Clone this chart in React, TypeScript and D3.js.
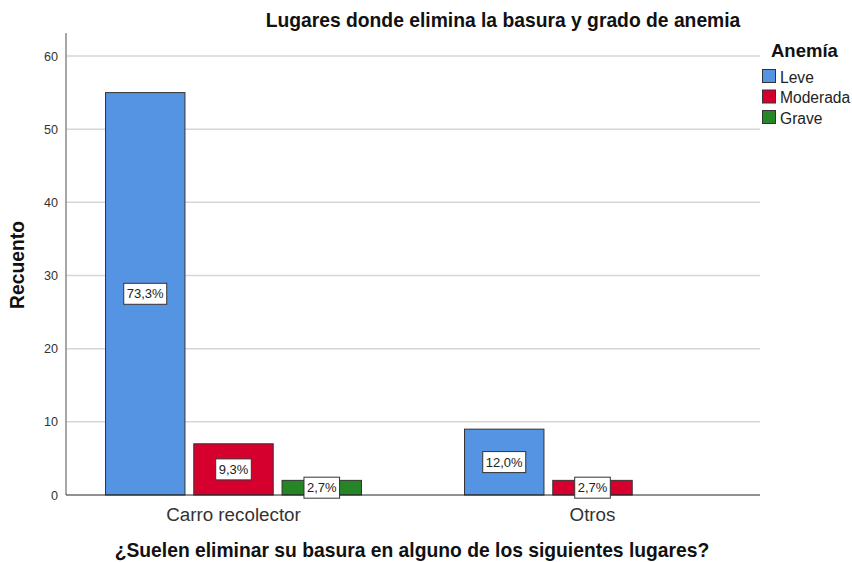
import React from 'react';
import * as d3 from 'd3';

// categories and series
const categories = ['Carro recolector', 'Otros'];
const series = ['Leve', 'Moderada', 'Grave'];
const colors = ['#5593e3', '#d5002e', '#268627'];
// counts per category, one array per series
const leve = [55, 9];
const moderada = [7, 2];
const grave = [2, 0];
const leveLabels = ['73,3%', '12,0%'];
const moderadaLabels = ['9,3%', '2,7%'];
const graveLabels = ['2,7%', ''];
const yTicks = [0, 10, 20, 30, 40, 50, 60];

const values = [leve, moderada, grave];
const labels = [leveLabels, moderadaLabels, graveLabels];

const W = 852;
const H = 562;
const plot = { left: 66, right: 760, top: 33, bottom: 495 };
const font = '"Liberation Sans", Arial, sans-serif';

const App = () => {
   const y = d3.scaleLinear().domain([0, 60]).range([plot.bottom, 56]);

   // outer band for categories, inner band for series
   const x0 = d3.scaleBand()
      .domain(categories)
      .range([plot.left - 12, plot.right + 12]);
   const groupW = x0.bandwidth() * 0.713;
   const x1 = d3.scaleBand()
      .domain(series)
      .range([0, groupW])
      .paddingInner(0.1);

   const bars = [];
   categories.forEach((cat, ci) => {
      series.forEach((s, si) => {
         const v = values[si][ci];
         if (!v) return;
         const bx = x0(cat) + (x0.bandwidth() - groupW) / 2 + x1(s);
         bars.push({ key: cat + s, x: bx, w: x1.bandwidth(), v, color: colors[si], label: labels[si][ci] });
      });
   });

   return (
      <svg width={W} height={H} style={{ position: 'absolute', left: 0, top: 0, fontFamily: font }}>
         <rect width={W} height={H} fill="#fff" />

         {/* title */}
         <text x={503} y={27} textAnchor="middle" fontSize={19.3} fontWeight="bold" fill="#111">
            Lugares donde elimina la basura y grado de anemia
         </text>

         {/* grid */}
         {yTicks.filter(t => t > 0).map(t => (
            <line key={t} x1={plot.left} x2={plot.right} y1={y(t)} y2={y(t)} stroke="#d6d6d6" strokeWidth={1.5} />
         ))}

         {/* y axis */}
         <line x1={plot.left} x2={plot.left} y1={plot.top} y2={plot.bottom} stroke="#8a8a8a" strokeWidth={1.5} />
         {yTicks.map(t => (
            <text key={t} x={58} y={y(t) + 4.5} textAnchor="end" fontSize={12.6} fill="#333">{t}</text>
         ))}
         <text transform={`translate(24,${265}) rotate(-90)`} textAnchor="middle" fontSize={19.3} fontWeight="bold" fill="#111">
            Recuento
         </text>

         {/* bars */}
         {bars.map(b => (
            <rect key={b.key} x={b.x} y={y(b.v)} width={b.w} height={plot.bottom - y(b.v)}
               fill={b.color} stroke="#333" strokeWidth={1} />
         ))}

         {/* baseline */}
         <line x1={plot.left} x2={plot.right} y1={plot.bottom} y2={plot.bottom} stroke="#222" strokeWidth={1} />

         {/* value labels */}
         {bars.filter(b => b.label).map(b => {
            const cx = b.x + b.w / 2;
            const cy = (y(b.v) + plot.bottom) / 2;
            const bw = b.label.length * 7.4 + 6;
            return (
               <g key={'l' + b.key}>
                  <rect x={cx - bw / 2} y={cy - 10.5} width={bw} height={21} fill="#fff" stroke="#333" strokeWidth={1} />
                  <text x={cx} y={cy + 4.5} textAnchor="middle" fontSize={13} fill="#222">{b.label}</text>
               </g>
            );
         })}

         {/* category labels */}
         {categories.map(c => (
            <text key={c} x={x0(c) + x0.bandwidth() / 2} y={521} textAnchor="middle" fontSize={18.8} fill="#333">{c}</text>
         ))}

         {/* x title */}
         <text x={412} y={557} textAnchor="middle" fontSize={19.3} fontWeight="bold" fill="#111">
            ¿Suelen eliminar su basura en alguno de los siguientes lugares?
         </text>

         {/* legend */}
         <text x={771} y={57} fontSize={18.5} fontWeight="bold" fill="#111">Anemía</text>
         {series.map((s, i) => (
            <g key={s} transform={`translate(762,${69 + i * 20.5})`}>
               <rect x={0.5} y={0.5} width={13} height={13} fill={colors[i]} stroke="#333" strokeWidth={1} />
               <text x={18} y={13.5} fontSize={15.6} fill="#222">{s}</text>
            </g>
         ))}
      </svg>
   );
};

export default App;
